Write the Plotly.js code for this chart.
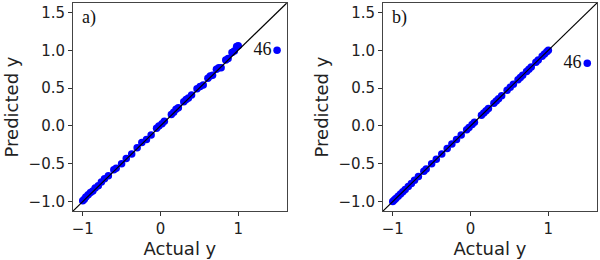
<!DOCTYPE html>
<html>
<head>
<meta charset="utf-8">
<script src="https://cdn.plot.ly/plotly-3.0.1.min.js"></script>
<style>html,body{margin:0;padding:0;background:#fff}#chart{width:600px;height:260px}</style>
</head>
<body>
<div id="chart"></div>
<script>
// Data
const actualY = [-1.0,-0.98,-0.96,-0.93,-0.9,-0.87,-0.84,-0.8,-0.76,-0.72,-0.67,-0.6,-0.57,-0.5,-0.44,-0.37,-0.3,-0.24,-0.18,-0.12,-0.05,-0.02,0.02,0.05,0.14,0.17,0.2,0.23,0.3,0.33,0.36,0.4,0.47,0.51,0.55,0.61,0.64,0.67,0.72,0.75,0.78,0.84,0.87,0.92,0.95,0.98,1.0];
const predA = [-0.99,-0.97,-0.94,-0.91,-0.88,-0.86,-0.82,-0.79,-0.74,-0.7,-0.66,-0.58,-0.56,-0.5,-0.43,-0.37,-0.29,-0.22,-0.18,-0.12,-0.03,0.0,0.03,0.06,0.15,0.18,0.22,0.24,0.32,0.35,0.37,0.41,0.49,0.52,0.54,0.63,0.66,0.67,0.75,0.77,0.77,0.87,0.89,0.97,0.99,1.05,1.06];
const predB = [-1.0,-0.98,-0.96,-0.93,-0.9,-0.87,-0.84,-0.8,-0.76,-0.72,-0.67,-0.6,-0.57,-0.5,-0.44,-0.37,-0.3,-0.24,-0.18,-0.12,-0.05,-0.02,0.02,0.05,0.14,0.17,0.2,0.23,0.3,0.33,0.36,0.4,0.47,0.51,0.55,0.61,0.64,0.67,0.72,0.75,0.78,0.84,0.87,0.92,0.95,0.98,1.0];
const outlierLabel = ["46"];
const outlierActual = [1.5];
const outlierPredA = [1.0];
const outlierPredB = [0.83];
const panelLabels = ["a)", "b)"];
const axisRange = [-1.125, 1.625];

const blue = "#0000ff";
const mk = {color: blue, size: 7.5};
const serif = {family: "Liberation Serif, Times New Roman, serif", size: 18, color: "#111"};

const traces = [
  {x: actualY, y: predA, mode: "markers", marker: mk, xaxis: "x", yaxis: "y"},
  {x: outlierActual, y: outlierPredA, mode: "markers+text", text: outlierLabel, textposition: "middle left", textfont: serif, marker: mk, xaxis: "x", yaxis: "y"},
  {x: axisRange, y: axisRange, mode: "lines", line: {color: "#000", width: 1.2}, xaxis: "x", yaxis: "y", hoverinfo: "skip"},
  {x: actualY, y: predB, mode: "markers", marker: mk, xaxis: "x2", yaxis: "y2"},
  {x: outlierActual, y: outlierPredB, mode: "markers+text", text: outlierLabel, textposition: "middle left", textfont: serif, marker: mk, xaxis: "x2", yaxis: "y2"},
  {x: axisRange, y: axisRange, mode: "lines", line: {color: "#000", width: 1.2}, xaxis: "x2", yaxis: "y2", hoverinfo: "skip"}
];

const tickFont = {family: "DejaVu Sans, sans-serif", size: 15, color: "#222"};
const titleFont = {family: "DejaVu Sans, sans-serif", size: 18, color: "#222"};
function xax(domain, anchor) {
  return {domain: domain, anchor: anchor, range: axisRange, dtick: 1, tick0: 0, ticks: "outside", ticklen: 4, tickcolor: "#333",
    showgrid: false, zeroline: false, showline: true, linecolor: "#444", linewidth: 1, mirror: true,
    tickfont: tickFont, title: {text: "Actual y", font: titleFont, standoff: 3}};
}
function yax(anchor) {
  return {domain: [0, 1], anchor: anchor, range: axisRange, dtick: 0.5, tick0: 0, tickformat: ".1f", ticks: "outside", ticklen: 4, tickcolor: "#333",
    showgrid: false, zeroline: false, showline: true, linecolor: "#444", linewidth: 1, mirror: true,
    tickfont: tickFont, title: {text: "Predicted y", font: titleFont, standoff: 5}};
}

const layout = {
  width: 600, height: 260,
  margin: {l: 73, r: 3, t: 3, b: 49},
  paper_bgcolor: "#fff", plot_bgcolor: "#fff",
  showlegend: false,
  xaxis: xax([0, 0.408], "y"),
  yaxis: yax("x"),
  xaxis2: xax([0.5916, 1], "y2"),
  yaxis2: yax("x2"),
  annotations: [
    {xref: "x domain", yref: "y domain", x: 0.035, y: 0.99, xanchor: "left", yanchor: "top", text: panelLabels[0], showarrow: false, font: serif},
    {xref: "x2 domain", yref: "y2 domain", x: 0.035, y: 0.99, xanchor: "left", yanchor: "top", text: panelLabels[1], showarrow: false, font: serif}
  ]
};

Plotly.newPlot("chart", traces, layout, {displayModeBar: false, staticPlot: true});
</script>
</body>
</html>
